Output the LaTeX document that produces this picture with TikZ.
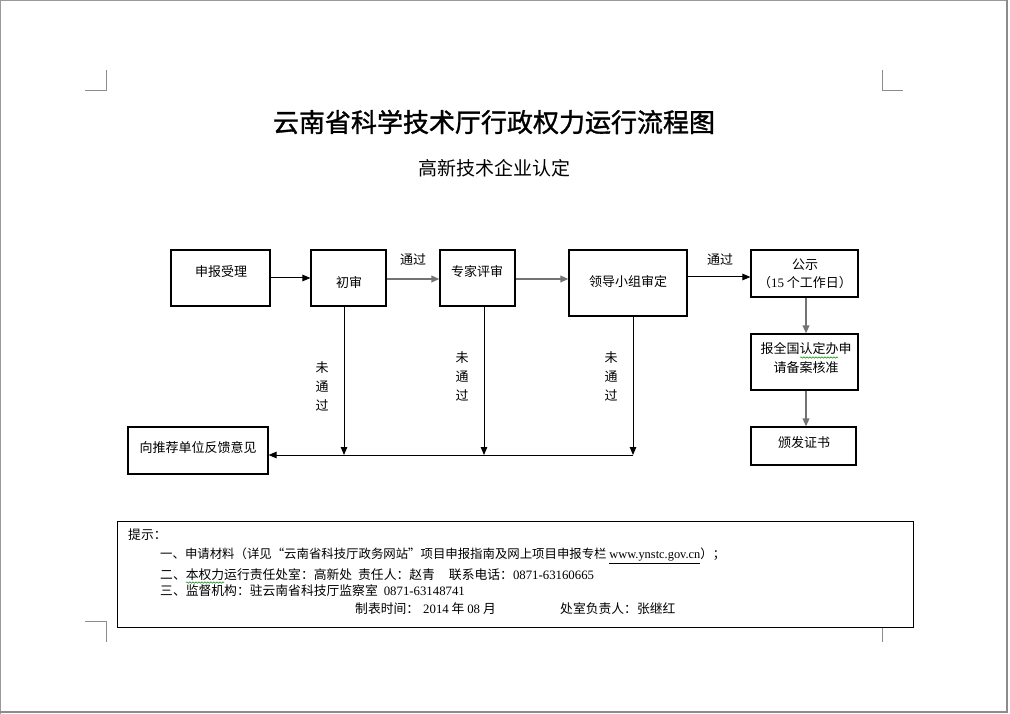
\documentclass[tikz,border=0pt]{standalone}
\usepackage{fontspec}
\setmainfont{Noto Sans CJK SC}
\newfontfamily\tnr{Liberation Serif}
\newfontfamily\titlefont[FakeBold=1.3]{Noto Sans CJK SC}
\usetikzlibrary{arrows.meta,decorations.pathmorphing}
\begin{document}
\begin{tikzpicture}[x=1pt,y=-1pt,
  box/.style={draw=black,line width=1.1pt,fill=white,inner sep=0pt},
  txt/.style={inner sep=0pt,font=\fontsize{13}{16}\selectfont},
  note/.style={inner sep=0pt,anchor=west,font=\fontsize{12.8}{15}\selectfont},
  vlab/.style={inner sep=0pt,align=center,font=\fontsize{13}{19}\selectfont},
  arr/.style={-{Triangle[length=8pt,width=6.5pt]},line width=1pt,draw=black},
  garr/.style={-{Triangle[length=8pt,width=6.5pt]},line width=1.8pt,draw=black!55},
  crop/.style={draw=black!45,line width=1pt},
  wavy/.style={draw=green!55!black,line width=0.5pt,decorate,decoration={snake,amplitude=0.7pt,segment length=3pt}}
]
\useasboundingbox (0,0) rectangle (1010,714);
\fill[white] (0,0) rectangle (1010,714);
% page border
\draw[black!40,line width=1pt] (0.5,714) -- (0.5,0.5) -- (1007,0.5);
\draw[black!45,line width=2.5pt] (1007,0) -- (1007,712) -- (0,712);
% crop marks
\draw[crop] (106,70) -- (106,91) -- (85,91);
\draw[crop] (882,70) -- (882,91) -- (903,91);
\draw[crop] (85,621) -- (106,621) -- (106,642);
\draw[crop] (882,621) -- (882,642);
\draw[crop] (882,621) -- (903,621);

% titles
\node[inner sep=0pt,font=\fontsize{26}{30}\selectfont\titlefont] (title) at (494,122) {云南省科学技术厅行政权力运行流程图};
\node[inner sep=0pt,font=\fontsize{19}{22}\selectfont] (sub) at (494,168) {高新技术企业认定};

% boxes
\node[box,minimum width=99pt,minimum height=56pt] (b1) at (220.5,278) {};
\node[box,minimum width=75pt,minimum height=56pt] (b2) at (348.5,278) {};
\node[box,minimum width=75pt,minimum height=56pt] (b3) at (477.5,278) {};
\node[box,minimum width=118pt,minimum height=66pt] (b4) at (628,283) {};
\node[box,minimum width=107pt,minimum height=47pt] (b5) at (804.5,273.5) {};
\node[box,minimum width=107pt,minimum height=56pt] (b6) at (804.5,362) {};
\node[box,minimum width=105pt,minimum height=38pt] (b7) at (803.5,446) {};
\node[box,minimum width=140pt,minimum height=47pt] (b8) at (198,450.5) {};

% box texts
\node[txt] (t1) at (221,272) {申报受理};
\node[txt] (t2) at (349,283) {初审};
\node[txt] (t3) at (477,272) {专家评审};
\node[txt] (t4) at (628,282) {领导小组审定};
\node[txt] (t5a) at (805,265) {公示};
\node[txt] (t5b) at (805,283) {（{\tnr 15} 个工作日）};
\node[txt] (t6a) at (806,349) {报全国认定办申};
\node[txt] (t6b) at (806,368) {请备案核准};
\node[txt] (t7) at (804,443) {颁发证书};
\node[txt] (t8) at (198,448) {向推荐单位反馈意见};
\draw[wavy] (800,357.5) -- (838,357.5);

% main flow
\draw[arr] (b1.east) -- (b2.west);
\draw[garr] ([yshift=-1pt]b2.east) -- ([yshift=-1pt]b3.west);
\draw[garr] ([yshift=-1pt]b3.east) -- ([yshift=-1pt]b3.east -| b4.west);
\draw[arr] ([yshift=-3.5pt]b5.west -| b4.east) -- ([yshift=-3.5pt]b5.west);
\draw[garr] ([xshift=1.5pt]b5.south) -- ([xshift=1.5pt]b6.north);
\draw[garr] ([xshift=1.5pt]b6.south) -- ([xshift=1.5pt]b6.south |- b7.north);
\node[txt] (l1) at (413,260) {通过};
\node[txt] (l2) at (720,260) {通过};

% rejection paths
\coordinate (j1) at (344,455);
\coordinate (j2) at (484,455);
\coordinate (j3) at (633,455);
\draw[arr] (b2.south -| j1) -- (j1);
\draw[arr] (b3.south -| j2) -- (j2);
\draw[arr] (b4.south -| j3) -- (j3);
\draw[arr] (j3) -- (j3 -| b8.east);
\node[vlab] (v1) at (322,386) {未\\通\\过};
\node[vlab] (v2) at (462,376) {未\\通\\过};
\node[vlab] (v3) at (611,376) {未\\通\\过};

% notes
\node[box,line width=1pt,minimum width=796pt,minimum height=106pt] (nb) at (515,574) {};
\node[note] (n0) at (128,535) {提示：};
\node[note,font=\fontsize{12.4}{15}\selectfont] (n1) at (160,556) {一、申请材料（详见“云南省科技厅政务网站”项目申报指南及网上项目申报专栏 {\tnr\underline{www.ynstc.gov.cn}}）；};
\node[note] (n2) at (160,575) {二、本权力运行责任处室：高新处\hspace{6pt}责任人：赵青\hspace{14pt}联系电话：{\tnr 0871-63160665}};
\node[note] (n3) at (160,591) {三、监督机构：驻云南省科技厅监察室\hspace{6pt}{\tnr 0871-63148741}};
\node[note] (n4) at (355,609) {制表时间：\hspace{4pt}{\tnr 2014} 年 {\tnr 08} 月};
\node[note] (n5) at (560,609) {处室负责人：张继红};
\draw[wavy] (186,582.5) -- (224,582.5);
\end{tikzpicture}
\end{document}
